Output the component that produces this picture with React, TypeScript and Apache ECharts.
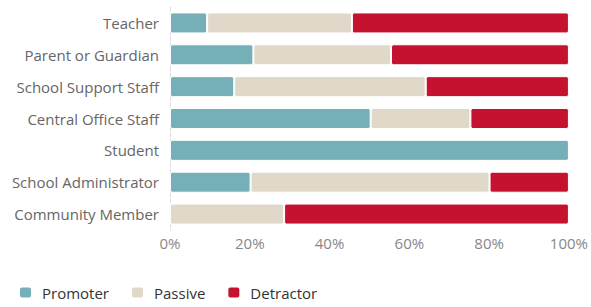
import React, { useEffect, useRef } from "react";
import * as echarts from "echarts";

const categories = [
  "Teacher",
  "Parent or Guardian",
  "School Support Staff",
  "Central Office Staff",
  "Student",
  "School Administrator",
  "Community Member",
];
const promoter = [9.3, 20.9, 16.1, 50.3, 100, 20.2, 0];
const passive = [36.3, 34.5, 48.0, 25.0, 0, 59.9, 28.6];
const detractor = [54.4, 44.6, 35.9, 24.7, 0, 19.9, 71.4];
const xTicks = [0, 20, 40, 60, 80, 100];

const FONT = "'Open Sans', 'Noto Sans', sans-serif";

export default function App() {
  const ref = useRef<HTMLDivElement>(null);
  useEffect(() => {
    if (!ref.current) return;
    const chart = echarts.init(ref.current, null, { renderer: "svg" });
    const mk = (name: string, data: number[], color: string) => ({
      name,
      type: "bar",
      stack: "total",
      data,
      barWidth: 21,
      itemStyle: { color, borderColor: "#fff", borderWidth: 1, borderRadius: 2 },
    });
    chart.setOption({
      animation: false,
      textStyle: { fontFamily: FONT },
      grid: { left: 170, right: 22, top: 7, bottom: 77, containLabel: false },
      legend: {
        left: 18,
        top: 285,
        padding: 0,
        itemWidth: 13,
        itemHeight: 12,
        itemGap: 21,
        icon: "roundRect",
        textStyle: { fontSize: 15, color: "#333", fontFamily: FONT, padding: [0, 0, 0, 5] },
        data: ["Promoter", "Passive", "Detractor"],
      },
      xAxis: {
        type: "value",
        min: 0,
        max: 100,
        interval: 20,
        axisLine: { show: false },
        axisTick: { show: false },
        splitLine: { show: false },
        axisLabel: {
          color: "#888",
          fontSize: 15,
          fontFamily: FONT,
          margin: 5,
          formatter: (v: number) => (xTicks.includes(v) ? v + "%" : ""),
        },
      },
      yAxis: {
        type: "category",
        inverse: true,
        data: categories,
        axisLine: { show: true, lineStyle: { color: "#ddd", type: "dashed", width: 1 } },
        axisTick: { show: false },
        axisLabel: { color: "#666", fontSize: 15, fontFamily: FONT, margin: 11 },
      },
      series: [
        mk("Promoter", promoter, "#75AFB7"),
        mk("Passive", passive, "#E0D8C8"),
        mk("Detractor", detractor, "#C41230"),
      ],
    });
    return () => chart.dispose();
  }, []);
  return <div ref={ref} style={{ width: 591, height: 307, position: "absolute", left: 0, top: 0 }} />;
}
